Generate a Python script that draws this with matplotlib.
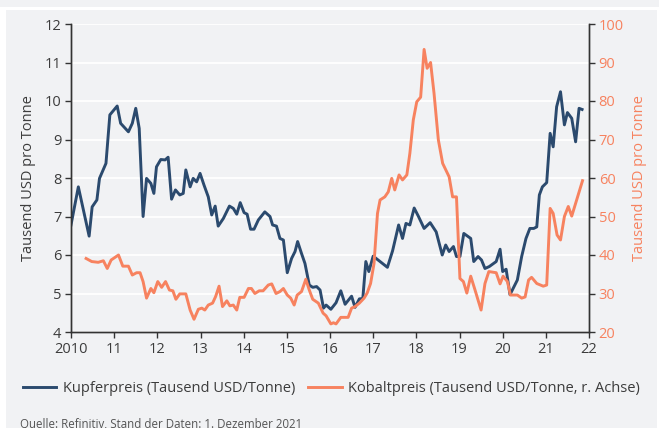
import matplotlib.pyplot as plt
from matplotlib.patches import Rectangle
from matplotlib.lines import Line2D

# Kupferpreis, Tausend USD/Tonne (Zeitpunkt als Dezimaljahr)
kupfer_t = [2010.0, 2010.17, 2010.42, 2010.49, 2010.6, 2010.66, 2010.81, 2010.9, 2011.07, 2011.15,
            2011.33, 2011.42, 2011.5, 2011.58, 2011.67, 2011.75, 2011.85, 2011.92, 2011.98, 2012.08,
            2012.18, 2012.25, 2012.33, 2012.42, 2012.52, 2012.6, 2012.66, 2012.76, 2012.83, 2012.91,
            2012.99, 2013.08, 2013.18, 2013.26, 2013.34, 2013.41, 2013.53, 2013.67, 2013.76, 2013.84,
            2013.92, 2014.01, 2014.08, 2014.16, 2014.24, 2014.34, 2014.49, 2014.61, 2014.67, 2014.76,
            2014.84, 2014.92, 2015.01, 2015.11, 2015.19, 2015.25, 2015.34, 2015.42, 2015.52, 2015.6,
            2015.69, 2015.77, 2015.85, 2015.91, 2016.02, 2016.14, 2016.25, 2016.35, 2016.5, 2016.58,
            2016.68, 2016.76, 2016.83, 2016.9, 2017.0, 2017.16, 2017.33, 2017.45, 2017.59, 2017.68,
            2017.76, 2017.85, 2017.95, 2018.05, 2018.18, 2018.32, 2018.46, 2018.6, 2018.68, 2018.76,
            2018.86, 2018.93, 2019.01, 2019.1, 2019.26, 2019.33, 2019.43, 2019.51, 2019.59, 2019.69,
            2019.85, 2019.94, 2020.0, 2020.08, 2020.17, 2020.34, 2020.44, 2020.54, 2020.63, 2020.72,
            2020.79, 2020.85, 2020.92, 2021.02, 2021.1, 2021.17, 2021.25, 2021.34, 2021.43, 2021.5,
            2021.6, 2021.69, 2021.77, 2021.84]
kupfer = [6.78, 7.77, 6.49, 7.25, 7.43, 7.99, 8.38, 9.64, 9.87, 9.42,
          9.2, 9.42, 9.81, 9.29, 7.0, 7.99, 7.86, 7.6, 8.29, 8.48,
          8.47, 8.54, 7.45, 7.69, 7.56, 7.6, 8.21, 7.77, 7.99, 7.9,
          8.12, 7.82, 7.51, 7.04, 7.27, 6.75, 6.95, 7.27, 7.21, 7.06,
          7.36, 7.1, 7.06, 6.67, 6.67, 6.91, 7.12, 7.0, 6.78, 6.75,
          6.43, 6.39, 5.54, 5.91, 6.09, 6.35, 6.04, 5.78, 5.22, 5.16,
          5.18, 5.09, 4.62, 4.7, 4.59, 4.76, 5.07, 4.72, 4.93, 4.64,
          4.86, 4.87, 5.83, 5.57, 5.97, 5.83, 5.68, 6.11, 6.78, 6.43,
          6.82, 6.78, 7.22, 7.0, 6.69, 6.84, 6.6, 6.0, 6.26, 6.09,
          6.22, 5.96, 5.96, 6.56, 6.43, 5.83, 5.96, 5.87, 5.65, 5.7,
          5.83, 6.15, 5.57, 5.63, 4.97, 5.35, 5.96, 6.43, 6.69, 6.69,
          6.73, 7.56, 7.77, 7.88, 9.16, 8.81, 9.85, 10.24, 9.38, 9.7,
          9.55, 8.94, 9.81, 9.78]

# Kobaltpreis, Tausend USD/Tonne (rechte Achse)
kobalt_t = [2010.35, 2010.48, 2010.63, 2010.75, 2010.84, 2010.93, 2011.1, 2011.2, 2011.33, 2011.42,
            2011.52, 2011.6, 2011.67, 2011.75, 2011.85, 2011.92, 2012.01, 2012.1, 2012.19, 2012.28,
            2012.36, 2012.43, 2012.52, 2012.66, 2012.76, 2012.85, 2012.95, 2013.03, 2013.1, 2013.18,
            2013.28, 2013.35, 2013.43, 2013.51, 2013.61, 2013.68, 2013.76, 2013.84, 2013.91, 2014.01,
            2014.11, 2014.18, 2014.26, 2014.36, 2014.45, 2014.57, 2014.65, 2014.75, 2014.84, 2014.92,
            2015.01, 2015.09, 2015.17, 2015.24, 2015.34, 2015.44, 2015.52, 2015.6, 2015.73, 2015.84,
            2015.91, 2016.02, 2016.08, 2016.14, 2016.25, 2016.42, 2016.5, 2016.58, 2016.68, 2016.79,
            2016.86, 2016.94, 2017.02, 2017.1, 2017.16, 2017.27, 2017.35, 2017.43, 2017.5, 2017.6,
            2017.68, 2017.78, 2017.85, 2017.93, 2018.01, 2018.1, 2018.18, 2018.25, 2018.33, 2018.41,
            2018.51, 2018.61, 2018.76, 2018.84, 2018.93, 2019.01, 2019.09, 2019.17, 2019.26, 2019.36,
            2019.5, 2019.59, 2019.68, 2019.85, 2019.94, 2020.01, 2020.11, 2020.18, 2020.34, 2020.44,
            2020.52, 2020.6, 2020.67, 2020.79, 2020.94, 2021.02, 2021.1, 2021.17, 2021.26, 2021.34,
            2021.43, 2021.52, 2021.6, 2021.85]
kobalt = [39.1, 38.3, 38.1, 38.5, 36.5, 38.7, 40.0, 37.1, 37.1, 34.8,
          35.4, 35.4, 33.1, 28.8, 31.3, 30.2, 33.1, 31.6, 33.1, 30.9,
          30.7, 28.5, 29.9, 29.9, 25.7, 23.3, 25.9, 26.2, 25.7, 27.0,
          27.5, 29.2, 31.9, 26.6, 28.1, 26.8, 27.0, 25.7, 29.0, 29.0,
          31.3, 31.3, 30.0, 30.7, 30.7, 32.2, 32.5, 30.0, 30.5, 31.3,
          29.6, 28.8, 27.0, 29.6, 30.5, 33.7, 30.9, 28.5, 27.5, 24.9,
          24.2, 22.1, 22.4, 22.1, 23.8, 23.8, 26.2, 26.6, 27.5, 28.8,
          30.1, 32.6, 37.8, 50.8, 54.3, 55.1, 56.4, 59.9, 56.9, 60.8,
          59.5, 60.8, 66.4, 75.1, 79.8, 81.0, 93.4, 88.5, 90.0, 82.0,
          69.9, 63.8, 60.3, 55.1, 55.1, 33.9, 33.1, 30.1, 34.5, 30.9,
          25.7, 32.6, 35.7, 35.4, 32.5, 34.5, 33.1, 29.6, 29.6, 28.8,
          29.1, 33.5, 34.2, 32.6, 31.9, 32.2, 52.1, 50.8, 45.2, 43.9,
          50.0, 52.6, 50.1, 59.3]

jahre = list(range(2010, 2023))
jahr_labels = ['2010'] + [str(j)[2:] for j in range(2011, 2023)]

blau = '#2b4a6e'
orange = '#f7825f'
grau_bg = '#f1f2f4'
textfarbe = '#3c3c3c'

plt.rcParams['font.family'] = ['Open Sans', 'DejaVu Sans']

fig = plt.figure(figsize=(6.59, 4.28), dpi=100, facecolor='white')
# graue Flaechen mit weissem Rand
fig.patches.append(Rectangle((0, 1 - 7/428), 1, 7/428, transform=fig.transFigure,
                             facecolor=grau_bg, edgecolor='none', zorder=-10))
fig.patches.append(Rectangle((6/659, 0), 651/659, 1 - 10/428, transform=fig.transFigure,
                             facecolor=grau_bg, edgecolor='none', zorder=-10))

ax = fig.add_axes([71/659, 1 - 332/428, 518/659, 308/428])
ax.set_facecolor('none')
ax2 = ax.twinx()

ax.plot(kupfer_t, kupfer, color=blau, lw=2.1, solid_joinstyle='round')
ax2.plot(kobalt_t, kobalt, color=orange, lw=2.1, solid_joinstyle='round')

ax.set_xlim(2010, 2022)
ax.set_ylim(4, 12)
ax2.set_ylim(20, 100)
ax.set_xticks(jahre)
ax.set_xticklabels(jahr_labels)
ax.set_yticks(range(4, 13))
ax2.set_yticks(range(20, 101, 10))

ax.grid(axis='y', color='white', lw=1.3)
ax.set_axisbelow(True)

for a in (ax, ax2):
    a.spines['top'].set_visible(False)
    for s in ('left', 'right', 'bottom'):
        a.spines[s].set_color('#333333')
        a.spines[s].set_linewidth(1.0)
    a.tick_params(axis='both', length=4, width=1.0, color='#333333', labelsize=10.5, pad=3)
ax.tick_params(axis='both', labelcolor=textfarbe)
ax2.tick_params(axis='y', labelcolor=orange)

ax.set_ylabel('Tausend USD pro Tonne', color=textfarbe, fontsize=10.5, labelpad=6)
ax2.set_ylabel('Tausend USD pro Tonne', color=orange, fontsize=10.5, labelpad=6)

handles = [Line2D([], [], color=blau, lw=2.1), Line2D([], [], color=orange, lw=2.1)]
fig.legend(handles, ['Kupferpreis (Tausend USD/Tonne)', 'Kobaltpreis (Tausend USD/Tonne, r. Achse)'],
           loc='center', bbox_to_anchor=(0.503, 1 - 389/428), ncol=2, frameon=False,
           fontsize=10.5, handlelength=2.3, handletextpad=0.45, columnspacing=0.9,
           labelcolor=textfarbe)

fig.text(20/659, 1 - 424/428, 'Quelle: Refinitiv, Stand der Daten: 1. Dezember 2021',
         fontsize=8.3, color='#555555', va='center')

fig.savefig('out.png', dpi=100, facecolor=fig.get_facecolor())
